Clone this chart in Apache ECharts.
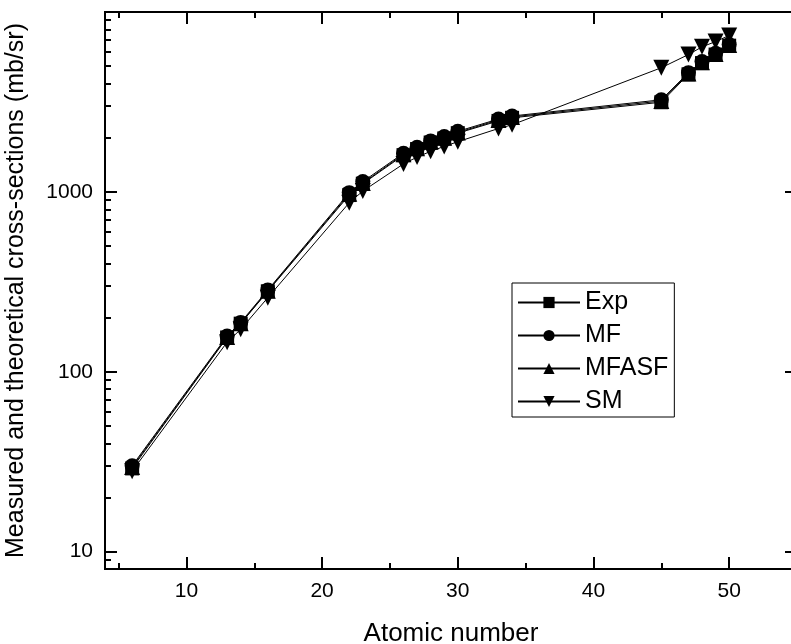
<!DOCTYPE html>
<html>
<head>
<meta charset="utf-8">
<script src="https://cdn.jsdelivr.net/npm/echarts@6/dist/echarts.min.js"></script>
<style>
  html, body { margin: 0; padding: 0; background: #fff; }
  #chart { width: 791px; height: 644px; }
</style>
</head>
<body>
<div id="chart"></div>
<script>
// atomic numbers
const atomicNumber = [6, 13, 14, 16, 22, 23, 26, 27, 28, 29, 30, 33, 34, 45, 47, 48, 49, 50];
// cross-sections (mb/sr)
const expValues   = [29, 155, 185, 280, 960, 1110, 1600, 1730, 1880, 1980, 2120, 2480, 2580, 3150, 4500, 5200, 5800, 6500];
const mfValues    = [30, 158, 188, 285, 990, 1140, 1640, 1770, 1920, 2030, 2170, 2540, 2640, 3250, 4600, 5300, 5900, 6600];
const mfasfValues = [29.5, 156, 186, 282, 975, 1120, 1620, 1750, 1900, 2000, 2140, 2510, 2610, 3200, 4550, 5250, 5850, 6550];
const smValues    = [28, 146, 172, 258, 870, 1010, 1430, 1560, 1680, 1790, 1900, 2250, 2360, 4900, 5800, 6400, 6850, 7400];

const xMajor = [10, 20, 30, 40, 50];
const xMinor = [5, 15, 25, 35, 45, 55];
const yLabels = [10, 100, 1000];
const yMajor = [10, 100, 1000, 10000];
const yMinor = [8, 9, 20, 30, 40, 50, 60, 70, 80, 90, 200, 300, 400, 500, 600, 700, 800, 900,
                2000, 3000, 4000, 5000, 6000, 7000, 8000, 9000];

const font = 'Liberation Sans, Arial, sans-serif';
const myChart = echarts.init(document.getElementById('chart'));

function pairs(vals) {
    return atomicNumber.map((z, i) => [z, vals[i]]);
}

function xAx(pos, ticks, len, opts) {
    return Object.assign({
        type: 'value', position: pos, min: 4, max: 55,
        axisLine: { show: true, onZero: false, lineStyle: { color: '#000', width: 2 } },
        axisTick: { show: true, inside: true, length: len, customValues: ticks, lineStyle: { color: '#000', width: 2 } },
        axisLabel: { show: false },
        splitLine: { show: false }
    }, opts || {});
}
function yAx(pos, ticks, len, opts) {
    return Object.assign({
        type: 'log', logBase: 10, position: pos, min: 8, max: 10000,
        axisLine: { show: true, onZero: false, lineStyle: { color: '#000', width: 2 } },
        axisTick: { show: true, inside: true, length: len, customValues: ticks, lineStyle: { color: '#000', width: 2 } },
        axisLabel: { show: false },
        splitLine: { show: false }
    }, opts || {});
}

const names = ['Exp', 'MF', 'MFASF', 'SM'];
const allVals = [expValues, mfValues, mfasfValues, smValues];
const symbols = ['rect', 'circle', 'triangle', 'path://M0,0 L10,0 L5,9 Z'];
const sizes = [14, 15, 16, 16];

const option = {
    animation: false,
    grid: { left: 105, top: 12, width: 692, height: 557, containLabel: false, outerBoundsMode: 'none' },
    legend: {
        orient: 'vertical', left: 512, top: 283,
        padding: [7, 6, 3, 5],
        itemWidth: 62, itemHeight: 14, itemGap: 8,
        borderColor: '#000', borderWidth: 1,
        textStyle: { fontFamily: font, fontSize: 25, color: '#000', lineHeight: 23 },
        data: names
    },
    xAxis: [
        xAx('bottom', xMajor, 12, {
            name: 'Atomic number', nameLocation: 'middle', nameGap: 52,
            nameTextStyle: { fontFamily: font, fontSize: 26, color: '#000' },
            axisLabel: { show: true, customValues: xMajor, margin: 12, fontFamily: font, fontSize: 21, color: '#000' }
        }),
        xAx('bottom', xMinor, 6),
        xAx('top', xMajor, 12),
        xAx('top', xMinor, 6)
    ],
    yAxis: [
        yAx('left', yMajor, 12, {
            name: 'Measured and theoretical cross-sections (mb/sr)', nameLocation: 'middle', nameGap: 76,
            nameTextStyle: { fontFamily: font, fontSize: 25, color: '#000' },
            axisLabel: {
                show: true, customValues: yLabels, margin: 12, fontFamily: font, fontSize: 21, color: '#000',
                formatter: v => String(Math.round(v))
            }
        }),
        yAx('left', yMinor, 6),
        yAx('right', yMajor, 12),
        yAx('right', yMinor, 6)
    ],
    series: names.map((n, i) => ({
        name: n,
        type: 'line',
        xAxisIndex: 0, yAxisIndex: 0,
        data: pairs(allVals[i]),
        symbol: symbols[i],
        symbolSize: sizes[i],
        showAllSymbol: true,
        lineStyle: { color: '#000', width: 1 },
        itemStyle: { color: '#000' }
    }))
};
myChart.setOption(option);
</script>
</body>
</html>
